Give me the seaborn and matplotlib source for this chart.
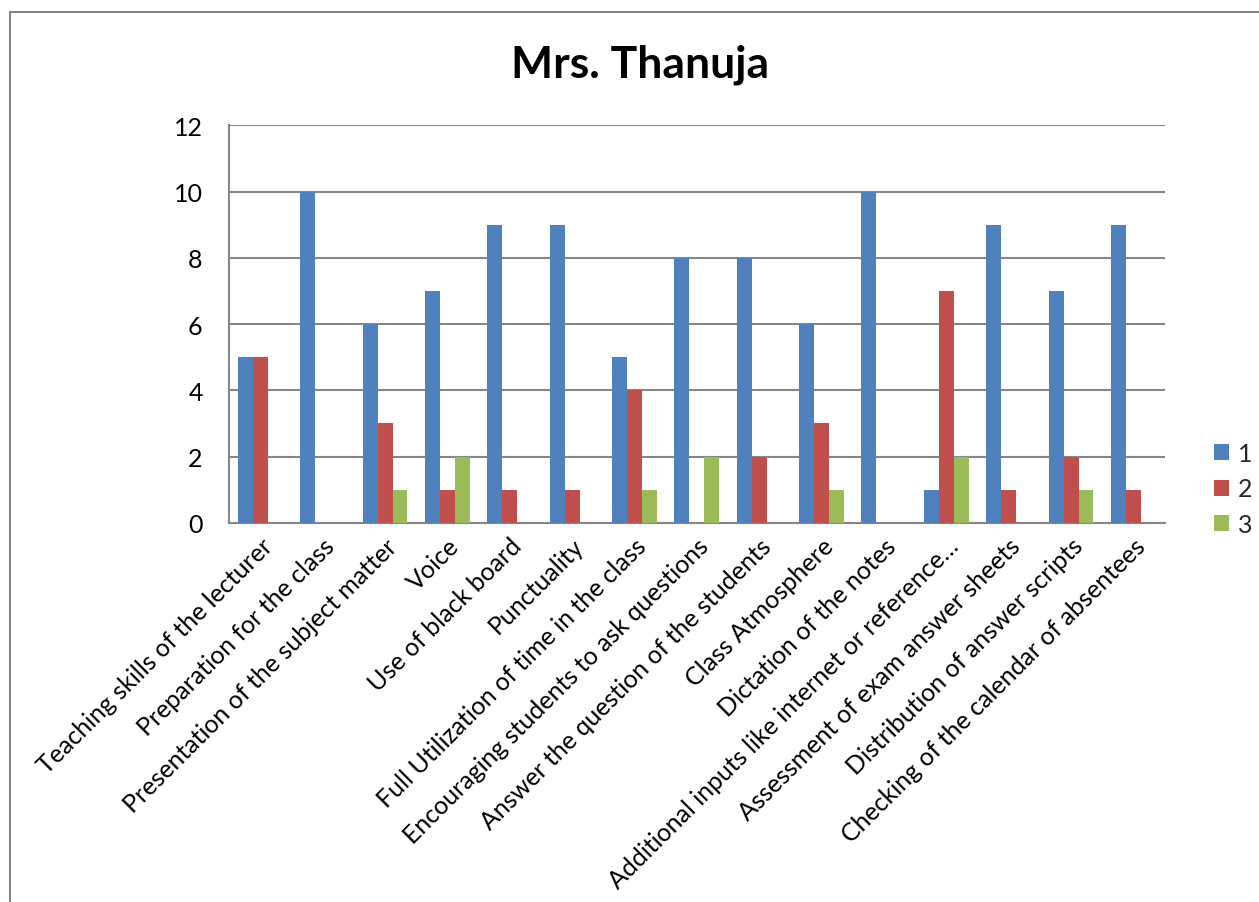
import pandas as pd
import matplotlib.pyplot as plt
import seaborn as sns
from matplotlib.patches import Rectangle

# Data
categories = [
    "Teaching skills of the lecturer",
    "Preparation for the class",
    "Presentation of the subject matter",
    "Voice",
    "Use of black board",
    "Punctuality",
    "Full Utilization of time in the class",
    "Encouraging students to ask questions",
    "Answer the question of the students",
    "Class Atmosphere",
    "Dictation of the notes",
    "Additional inputs like internet or reference\u2026",
    "Assessment of exam answer sheets",
    "Distribution of answer scripts",
    "Checking of the calendar of absentees",
]
series_1 = [5, 10, 6, 7, 9, 9, 5, 8, 8, 6, 10, 1, 9, 7, 9]
series_2 = [5, 0, 3, 1, 1, 1, 4, 0, 2, 3, 0, 7, 1, 2, 1]
series_3 = [0, 0, 1, 2, 0, 0, 1, 2, 0, 1, 0, 2, 0, 1, 0]
series_names = ["1", "2", "3"]
colors = ["#4F81BD", "#C0504D", "#9BBB59"]

rows = []
for name, vals in zip(series_names, [series_1, series_2, series_3]):
    for cat, v in zip(categories, vals):
        rows.append({"Category": cat, "Series": name, "Value": v})
df = pd.DataFrame(rows)

sns.set_style("white")
plt.rcParams["font.family"] = ["Lato", "DejaVu Sans"]

fig = plt.figure(figsize=(12.59, 9.03), dpi=100)
ax = fig.add_axes([0.182, 0.420, 0.743, 0.440])

sns.barplot(data=df, x="Category", y="Value", hue="Series", order=categories,
            hue_order=series_names, palette=colors, width=0.72, saturation=1,
            linewidth=0, ax=ax, zorder=3)

ax.set_ylim(0, 12)
ax.set_yticks(range(0, 13, 2))
ax.set_xlim(-0.5, len(categories) - 0.5)
ax.yaxis.grid(True, color="#868686", linewidth=1.5, zorder=0)
ax.set_axisbelow(True)
for s in ["top", "right"]:
    ax.spines[s].set_visible(False)
for s in ["left", "bottom"]:
    ax.spines[s].set_color("#868686")
    ax.spines[s].set_linewidth(1.5)
ax.set_xlabel("")
ax.set_ylabel("")
ax.tick_params(axis="both", length=0, labelsize=18, colors="black")
ax.tick_params(axis="y", pad=19)
ax.tick_params(axis="x", pad=8)
ax.set_xticks(range(len(categories)))
ax.set_xticklabels(categories, rotation=45, ha="right", rotation_mode="anchor", fontsize=18)

fig.text(640 / 1259, 1 - 65 / 903, "Mrs. Thanuja", fontsize=32, fontweight="bold",
         color="black", ha="center", va="center")

leg = ax.legend(loc="center left", bbox_to_anchor=(1.029, 0.085), frameon=False,
                fontsize=18, handlelength=0.6, handleheight=0.6, labelspacing=0.5,
                handletextpad=0.35)

# outer chart border
fig.patches.append(Rectangle((10 / 1259, -0.05), 1.2, 1 - 13 / 903 + 0.05,
                             transform=fig.transFigure, fill=False,
                             edgecolor="#868686", linewidth=1.5))

fig.savefig("out.png", dpi=100)
